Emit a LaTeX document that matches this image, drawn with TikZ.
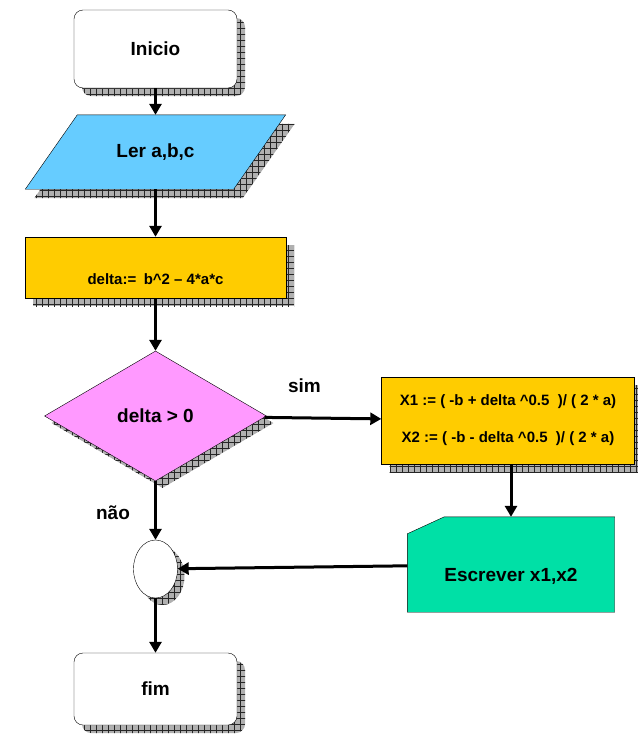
\documentclass[tikz,border=0pt]{standalone}
\usepackage{fontspec}
\setmainfont{Liberation Sans}
\usetikzlibrary{positioning, shapes.geometric, arrows.meta, shadows, patterns.meta}

\definecolor{lerblue}{HTML}{66CCFF}
\definecolor{procgold}{HTML}{FFCC00}
\definecolor{decpink}{HTML}{FF99FF}
\definecolor{escgreen}{HTML}{00E0A6}

\tikzset{
  grid shadow/.style={
    general shadow={shadow xshift=#1, shadow yshift=-#1, fill=gray!62},
    general shadow={shadow xshift=#1, shadow yshift=-#1,
      pattern={Hatch[distance=6pt, line width=0.5pt]}, pattern color=gray!30!black}},
  big/.style={font=\bfseries\fontsize{19}{22}\selectfont},
  small/.style={font=\bfseries\fontsize{15}{18}\selectfont},
  terminal/.style={draw, rectangle, rounded corners=9pt, fill=white,
    minimum width=163pt, big, grid shadow=8pt},
  iobox/.style={rectangle, minimum width=260pt, minimum height=74pt},
  procbox/.style={draw, rectangle, fill=procgold, grid shadow=8pt},
  decbox/.style={draw, diamond, aspect=1.7, minimum width=222pt, minimum height=130pt,
    inner sep=0pt, fill=decpink, big, grid shadow=7pt},
  outbox/.style={rectangle, minimum width=207pt, minimum height=95pt},
  junction/.style={draw, ellipse, minimum width=44pt, minimum height=58pt,
    fill=white, grid shadow=7pt},
  flow/.style={-{Triangle[length=11pt, width=12pt]}, line width=3pt}
}

\begin{document}
\begin{tikzpicture}[on grid]
  \useasboundingbox (0,0) rectangle (637pt,-736pt);

  \node[terminal, minimum height=78pt] (inicio) at (155.5pt,-49pt) {Inicio};
  \node[iobox] (ler) [below=103pt of inicio] {};
  \draw[fill=lerblue, grid shadow=9pt] ([xshift=52pt]ler.north west) -- (ler.north east)
    -- ([xshift=-52pt]ler.south east) -- (ler.south west) -- cycle;
  \node[big] (lertxt) at (ler.center) {Ler a,b,c};
  \node[procbox, minimum width=261pt, minimum height=61pt] (calc) [below=115.5pt of ler] {};
  \node[small] (calctxt) at ([yshift=-12pt]calc.center) {delta:=\enspace b\textasciicircum2 – 4*a*c};
  \node[decbox] (dec) [below=148.5pt of calc] {delta > 0};
  \node[procbox, small, align=center, minimum width=253pt, minimum height=87pt] (xbox)
    [below right=4.5pt and 352.5pt of dec]
    {X1 := ( -b + delta \textasciicircum0.5\ \ )/ ( 2 * a)\\[19pt]
     X2 := ( -b - delta \textasciicircum0.5\ \ )/ ( 2 * a)};
  \node[outbox] (esc) [below right=144pt and 3pt of xbox] {};
  \draw[fill=escgreen] ([yshift=-17pt]esc.north west) -- ([xshift=37pt]esc.north west)
    -- (esc.north east) -- (esc.south east) -- (esc.south west) -- cycle;
  \node[big] (esctxt) at ([yshift=-12pt]esc.center) {Escrever x1,x2};
  \node[junction] (junc) [below=153pt of dec] {};
  \node[terminal, minimum height=72pt] (fim) [below=120pt of junc] {fim};

  \node[big] (sim) at (304.5pt,-386pt) {sim};
  \node[big] (nao) at (113pt,-513pt) {não};

  \path[flow]
    (inicio) edge (ler)
    (ler) edge (calc)
    (calc) edge (dec)
    (dec) edge (xbox)
    (esc.north |- xbox.south) edge (esc.north)
    (esc) edge (junc)
    (dec) edge (junc)
    (junc) edge (fim)
    ;
\end{tikzpicture}
\end{document}
